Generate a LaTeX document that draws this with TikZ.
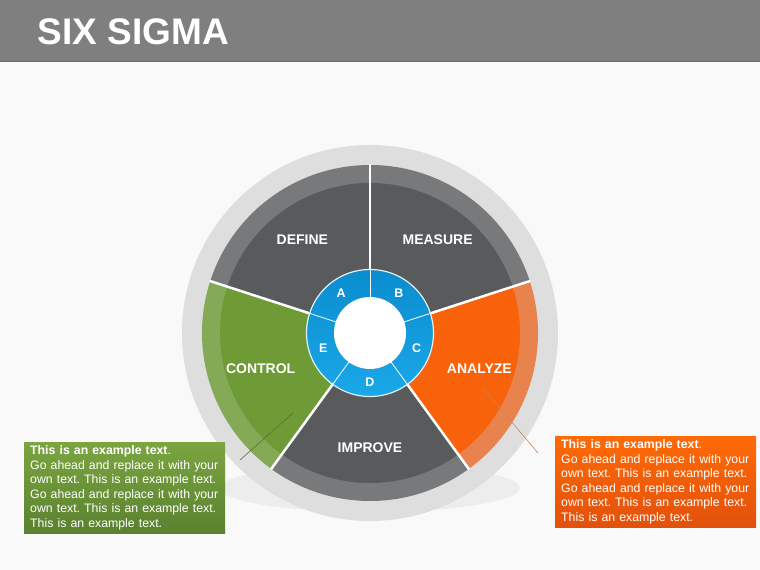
\documentclass[tikz,border=0pt]{standalone}
\usepackage{fontspec}
\setmainfont{Liberation Sans}
\usepackage{tikz}
\usetikzlibrary{calc}
\definecolor{pageBg}{HTML}{F9F9F9}
\definecolor{headerGray}{HTML}{7F7F7F}
\definecolor{headerLine}{HTML}{6C6C6C}
\definecolor{ringGray}{HTML}{DEDEDE}
\definecolor{sliceGray}{HTML}{595A5C}
\definecolor{sliceGrayRim}{HTML}{78797B}
\definecolor{ctrlGreen}{HTML}{6E9B35}
\definecolor{ctrlGreenRim}{HTML}{84A957}
\definecolor{anaOrange}{HTML}{F8620A}
\definecolor{anaOrangeRim}{HTML}{E8834E}
\definecolor{ringBlue}{HTML}{1AA8E8}
\definecolor{ringBlueDark}{HTML}{0A8DCE}
\definecolor{noteGreenTop}{HTML}{7BA540}
\definecolor{noteGreenBot}{HTML}{5A8130}
\definecolor{noteOrangeTop}{HTML}{FF6A06}
\definecolor{noteOrangeBot}{HTML}{E2510C}
\definecolor{leaderGreen}{HTML}{56752E}
\definecolor{leaderOrange}{HTML}{C7845A}
\frenchspacing

\begin{document}
\begin{tikzpicture}[x=1pt,y=1pt,
  slicelabel/.style={text=white,font=\fontsize{14}{14}\selectfont\bfseries},
  letterlabel/.style={text=white,font=\fontsize{12.5}{12.5}\selectfont\bfseries},
  notebox/.style={anchor=north west,text=white,text width=189pt,inner xsep=6pt,inner ysep=3.5pt,align=left,font=\fontsize{12.3}{14.5}\selectfont}]
\useasboundingbox (0,0) rectangle (760,570);
\fill[pageBg] (0,0) rectangle (760,570);
% header
\fill[headerGray] (0,508) rectangle (760,570);
\draw[headerLine,line width=1.5pt] (0,508.5)--(760,508.5);
\node (title) [text=white,font=\fontsize{37}{37}\selectfont\bfseries] at (133.5,538.5) {SIX SIGMA};
% wheel
\coordinate (c) at (370,237);
\fill[black!9,opacity=0.7] (370,82) ellipse (150 and 24);
\fill[ringGray] (c) circle (188);
\foreach \a/\main/\rim/\name/\txt in {90/sliceGray/sliceGrayRim/define/DEFINE,18/sliceGray/sliceGrayRim/measure/MEASURE,-54/anaOrange/anaOrangeRim/analyze/ANALYZE,-126/sliceGray/sliceGrayRim/improve/IMPROVE,162/ctrlGreen/ctrlGreenRim/control/CONTROL}{
  \fill[\rim] (c) -- ++(\a:168) arc[start angle=\a,delta angle=72,radius=168] -- cycle;
  \fill[\main] (c) -- ++(\a:150) arc[start angle=\a,delta angle=72,radius=150] -- cycle;
  \node (\name) [slicelabel] at ($(c)+({\a+36}:115)$) {\txt};
}
\foreach \a in {90,18,-54,-126,162} \draw[white,line width=2.5pt] (c) -- ++(\a:168.5);
% inner ring
\shade[top color=ringBlueDark,bottom color=ringBlue,even odd rule] (c) circle (63) circle (36);
\draw[white!85!ringBlue,line width=1.2pt] (c) circle (63.5);
\foreach \a in {90,18,-54,-126,162} \draw[white,line width=0.8pt] ($(c)+(\a:36)$) -- ($(c)+(\a:63)$);
\fill[white] (c) circle (36);
\foreach \a/\l in {126/A,54/B,-18/C,-90/D,198/E} \node (ring\l) [letterlabel] at ($(c)+(\a:49)$) {\l};
% notes
\coordinate (ctrlTip) at (293,157);
\coordinate (ctrlEnd) at (240,110);
\coordinate (anaTip) at (483,182);
\coordinate (anaEnd) at (538,117);
\draw[leaderGreen,line width=0.6pt] (ctrlTip) -- (ctrlEnd);
\draw[leaderOrange,line width=0.6pt] (anaTip) -- (anaEnd);
\node (noteleft) [notebox,top color=noteGreenTop,bottom color=noteGreenBot] at (24,128) {\textbf{This is an example text}.\\Go ahead and replace it with your\\own text. This is an example text.\\Go ahead and replace it with your\\own text. This is an example text.\\This is an example text.};
\node (noteright) [notebox,top color=noteOrangeTop,bottom color=noteOrangeBot] at (555,134) {\textbf{This is an example text}.\\Go ahead and replace it with your\\own text. This is an example text.\\Go ahead and replace it with your\\own text. This is an example text.\\This is an example text.};
\end{tikzpicture}
\end{document}
